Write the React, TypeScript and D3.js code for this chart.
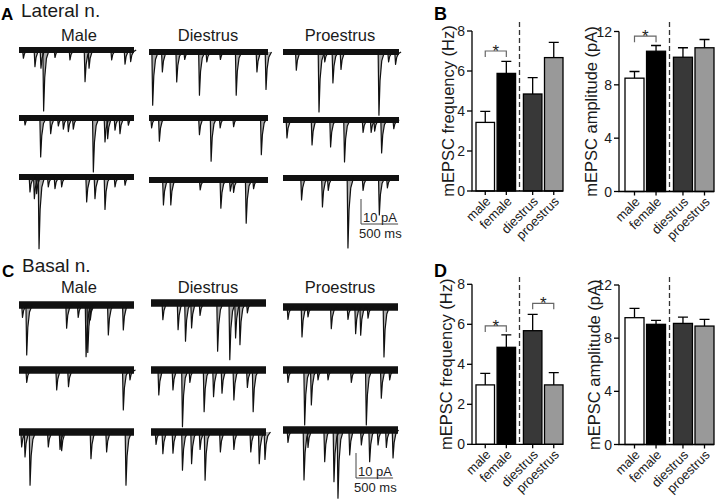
import React from 'react';
import * as d3 from 'd3';

const FONT = "'Liberation Sans', Arial, Helvetica, sans-serif";

// ---------- bar chart data ----------
const groups = ['male', 'female', 'diestrus', 'proestrus'];
const latFreq = [3.43, 5.88, 4.85, 6.67];
const latFreqErr = [0.55, 0.6, 0.82, 0.76];
const latAmp = [8.5, 10.52, 10.07, 10.78];
const latAmpErr = [0.5, 0.43, 0.71, 0.62];
const basFreq = [2.97, 4.85, 5.68, 2.97];
const basFreqErr = [0.58, 0.62, 0.82, 0.61];
const basAmp = [9.54, 9.04, 9.11, 8.91];
const basAmpErr = [0.7, 0.3, 0.48, 0.5];
const freqTicks = [0, 2, 4, 6, 8];
const ampTicks = [0, 4, 8, 12];
// significance brackets: [from group, to group, level]
const latFreqSig = [[0, 1, 7.0]];
const latAmpSig = [[0, 1, 11.65]];
const basFreqSig = [[0, 1, 5.92], [2, 3, 7.05]];
const basAmpSig: number[][] = [];

// ---------- trace data: events [time ms, amplitude pA] ----------
const TRACE_MS = 1550;
const PX_PER_PA = 2.5;

const latMale1 = [[59, 3.3], [215, 6.7], [296, 7.3], [332, 24.4], [485, 3], [687, 4], [890, 12.7], [944, 7.3], [1249, 4], [1429, 5.7], [1505, 4.7]];
const latMale2 = [[81, 2.8], [292, 15.6], [427, 6.3], [530, 3.2], [598, 4.5], [665, 5.5], [732, 4.5], [1002, 21.6], [1159, 9.6], [1195, 8.3], [1294, 4.9], [1361, 6.3], [1474, 2.9]];
const latMale3 = [[148, 6], [207, 8.7], [238, 6.7], [270, 28.7], [395, 4], [485, 4.7], [575, 4], [912, 10], [1024, 8.7], [1159, 13], [1294, 4], [1429, 3.3]];
const latDi1 = [[48, 21.3], [174, 8], [361, 12], [465, 3], [657, 17.3], [753, 4], [930, 3], [1136, 17.3], [1406, 8], [1524, 15]];
const latDi2 = [[34, 4], [135, 9.3], [657, 6.7], [809, 17.3], [927, 4], [1102, 3.5], [1463, 14.7]];
const latDi3 = [[188, 10], [284, 10], [667, 4], [936, 11.3], [1059, 4.5], [1102, 5], [1266, 17.3], [1362, 3.5]];
const latPro1 = [[178, 7.3], [481, 24], [558, 4], [667, 12.4], [775, 7], [1282, 25.3], [1411, 4], [1504, 5]];
const latPro2 = [[53, 7.2], [388, 10], [636, 10.8], [822, 16.8], [1070, 5], [1178, 5], [1225, 4.5], [1318, 13.2], [1480, 3.5]];
const latPro3 = [[248, 8.8], [527, 11.6], [605, 5], [868, 28], [1070, 5], [1287, 14.8], [1395, 4]];

const basMale1 = [[47, 5], [104, 20], [642, 9.3], [798, 5], [904, 20.7], [927, 19], [961, 6], [1204, 12], [1406, 10]];
const basMale2 = [[104, 5], [508, 8], [667, 6.7], [1406, 16], [1496, 4]];
const basMale3 = [[36, 6], [81, 10], [149, 21.3], [395, 6], [553, 7], [575, 7.5], [970, 10.7], [1181, 8], [1442, 21.3]];
const basDi1 = [[160, 6.7], [365, 10.7], [465, 15.3], [547, 10], [661, 5], [898, 19.3], [1062, 22.7], [1140, 14], [1199, 16.7], [1299, 4]];
const basDi2 = [[105, 10], [296, 8], [424, 22.7], [524, 5], [716, 16.7], [843, 10.7], [957, 9.3], [1117, 12], [1299, 7], [1377, 16.7]];
const basDi3 = [[68, 5], [160, 8.7], [296, 8.5], [424, 15.3], [547, 12.7], [661, 7], [729, 19.3], [935, 8], [1117, 7], [1345, 8], [1459, 12.7], [1536, 11]];
const basPro1 = [[67, 5], [256, 12], [337, 4], [651, 8.7], [876, 5], [979, 10.7], [1047, 11.3], [1146, 4.5], [1361, 20]];
const basPro2 = [[67, 5], [292, 22], [382, 14], [472, 4], [607, 4], [921, 5], [1123, 22], [1325, 11.3], [1438, 4]];
const basPro3 = [[67, 5], [283, 20], [337, 7], [562, 12.7], [687, 20.7], [741, 27.3], [899, 10], [1056, 6], [1168, 12.7], [1281, 6], [1393, 7], [1483, 11.2]];

const lineGen = d3.line();

function Trace({ x0, x1, base, events, band }: any) {
  const t = d3.scaleLinear().domain([0, TRACE_MS]).range([x0, x1]);
  const a = d3.scaleLinear().domain([0, 10]).range([base, base + 10 * PX_PER_PA]);
  return (
    <g>
      <path d={lineGen([[x0, base], [x1, base]] as any) as string} stroke="#111" strokeWidth={band} fill="none" />
      {events.map(([ms, pA]: number[], i: number) => {
        const x = t(ms);
        const y = a(pA);
        const d = y - base;
        const pts = [[x - 0.8, base], [x, y], [x + 1.1, base + d * 0.45], [x + 2.8, base + d * 0.14], [x + 5.5, base]];
        return <path key={i} d={lineGen(pts as any) as string} fill="#111" fillOpacity={0.35} stroke="#111" strokeWidth={1.2} strokeLinejoin="round" />;
      })}
    </g>
  );
}

function ScaleBar({ x, yBottom, labelY }: any) {
  const t = d3.scaleLinear().domain([0, TRACE_MS]).range([0, 115]);
  const a = d3.scaleLinear().domain([0, 10]).range([0, 10 * PX_PER_PA]);
  return (
    <g fontFamily={FONT} fontSize={13} fill="#222">
      <path d={`M${x},${yBottom - a(10)}V${yBottom}H${x + t(500)}`} fill="none" stroke="#444" strokeWidth={1} />
      <text x={x + 2} y={yBottom - 2}>10 pA</text>
      <text x={x - 2} y={labelY}>500 ms</text>
    </g>
  );
}

function BarChart({ axisX, y0, yTop, max, ticks, values, errs, sig, label, labelX, barStart, barEnd, barW, dashTop }: any) {
  const y = d3.scaleLinear().domain([0, max]).range([y0, yTop]);
  const slots = [0, 1, 2.25, 3.25];
  const slot = d3.scaleLinear().domain([0, 3.25]).range([barStart, barEnd - barW]);
  const fills = ['#fff', '#000', '#383838', '#999'];
  const cx = (i: number) => slot(slots[i]) + barW / 2;
  const dashX = (slot(1) + barW + slot(2.25)) / 2;
  return (
    <g fontFamily={FONT} fill="#1a1a1a">
      {values.map((v: number, i: number) => (
        <g key={i}>
          <path d={`M${cx(i)},${y(v)}V${y(v + errs[i])}M${cx(i) - 5},${y(v + errs[i])}H${cx(i) + 5}`} stroke="#000" strokeWidth={1.3} fill="none" />
          <rect x={slot(slots[i])} y={y(v)} width={barW} height={y0 - y(v)} fill={fills[i]} stroke="#000" strokeWidth={1.3} />
        </g>
      ))}
      <line x1={dashX} x2={dashX} y1={dashTop} y2={y0} stroke="#333" strokeWidth={1.3} strokeDasharray="5,3" />
      <path d={`M${axisX},${yTop}V${y0}H${barEnd}`} fill="none" stroke="#000" strokeWidth={1.3} />
      {ticks.map((tk: number) => (
        <g key={tk}>
          <line x1={axisX - 5} x2={axisX} y1={y(tk)} y2={y(tk)} stroke="#000" strokeWidth={1.3} />
          <text x={axisX - 7} y={y(tk)} textAnchor="end" dominantBaseline="central" fontSize={14}>{tk}</text>
        </g>
      ))}
      {groups.map((g, i) => (
        <g key={g}>
          <line x1={cx(i)} x2={cx(i)} y1={y0} y2={y0 + 4} stroke="#000" strokeWidth={1.3} />
          <text transform={`translate(${cx(i) + 3},${y0 + 8}) rotate(-45)`} textAnchor="end" dominantBaseline="central" fontSize={13}>{g}</text>
        </g>
      ))}
      {sig.map(([a, b, lv]: number[], k: number) => (
        <g key={k}>
          <path d={`M${cx(a)},${y(lv) + 6}V${y(lv)}H${cx(b)}V${y(lv) + 6}`} fill="none" stroke="#666" strokeWidth={1.2} />
          <text x={(cx(a) + cx(b)) / 2} y={y(lv) + 6} textAnchor="middle" fontSize={17} fill="#222">*</text>
        </g>
      ))}
      <text transform={`translate(${labelX},${(y0 + yTop) / 2}) rotate(-90)`} textAnchor="middle" dominantBaseline="central" fontSize={16.5}>{label}</text>
    </g>
  );
}

export default function App() {
  const colsA = [[19, 134], [149, 268], [283, 399]];
  const colsC = [[19, 134], [151, 266], [283, 398]];
  const basesA = [[50, 118, 177], [52, 118, 180], [52, 120, 178]];
  const basesC = [[305, 370, 432], [303, 370, 432], [307, 370, 430]];
  const evA = [[latMale1, latMale2, latMale3], [latDi1, latDi2, latDi3], [latPro1, latPro2, latPro3]];
  const evC = [[basMale1, basMale2, basMale3], [basDi1, basDi2, basDi3], [basPro1, basPro2, basPro3]];
  const titles = ['Male', 'Diestrus', 'Proestrus'];
  const titleX = [79, 208, 340];
  return (
    <svg width={720} height={502} style={{ position: 'absolute', left: 0, top: 0, background: '#fff' }} fontFamily={FONT}>
      <rect width={720} height={502} fill="#fff" />
      {/* Panel A */}
      <text x={1} y={20} fontSize={17} fontWeight="bold">A</text>
      <text x={21} y={16.5} fontSize={19} fill="#1a1a1a">Lateral n.</text>
      {titles.map((t, i) => <text key={t} x={titleX[i]} y={41} fontSize={16.5} textAnchor="middle" fill="#1a1a1a">{t}</text>)}
      {colsA.map((c, i) => basesA[i].map((b, r) => (
        <Trace key={`a${i}${r}`} x0={c[0]} x1={c[1]} base={b} events={evA[i][r]} band={6} />
      )))}
      <ScaleBar x={361} yBottom={224} labelY={238} />

      {/* Panel C */}
      <text x={2} y={277} fontSize={17} fontWeight="bold">C</text>
      <text x={22} y={272} fontSize={19} fill="#1a1a1a">Basal n.</text>
      {titles.map((t, i) => <text key={t} x={titleX[i]} y={293} fontSize={16.5} textAnchor="middle" fill="#1a1a1a">{t}</text>)}
      {colsC.map((c, i) => basesC[i].map((b, r) => (
        <Trace key={`c${i}${r}`} x0={c[0]} x1={c[1]} base={b} events={evC[i][r]} band={7.5} />
      )))}
      <ScaleBar x={356} yBottom={478} labelY={492} />

      {/* Panel B */}
      <text x={434} y={20} fontSize={18} fontWeight="bold">B</text>
      <BarChart axisX={472} y0={191} yTop={31} max={8} ticks={freqTicks} values={latFreq} errs={latFreqErr} sig={latFreqSig}
        label="mEPSC frequency (Hz)" labelX={448} barStart={476} barEnd={563} barW={18.5} dashTop={22} />
      <BarChart axisX={619} y0={191.5} yTop={31.5} max={12} ticks={ampTicks} values={latAmp} errs={latAmpErr} sig={latAmpSig}
        label="mEPSC amplitude (pA)" labelX={591} barStart={625} barEnd={714} barW={19} dashTop={22} />

      {/* Panel D */}
      <text x={434} y={277} fontSize={18} fontWeight="bold">D</text>
      <BarChart axisX={472} y0={444.3} yTop={284.3} max={8} ticks={freqTicks} values={basFreq} errs={basFreqErr} sig={basFreqSig}
        label="mEPSC frequency (Hz)" labelX={446} barStart={476} barEnd={563} barW={18.5} dashTop={277} />
      <BarChart axisX={619} y0={444.5} yTop={285} max={12} ticks={ampTicks} values={basAmp} errs={basAmpErr} sig={basAmpSig}
        label="mEPSC amplitude (pA)" labelX={594} barStart={625} barEnd={714} barW={19} dashTop={277} />
    </svg>
  );
}
